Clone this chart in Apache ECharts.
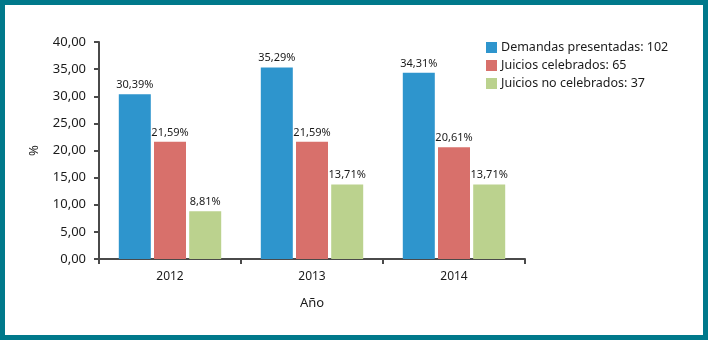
<!DOCTYPE html>
<html>
<head>
<meta charset="utf-8">
<script src="https://cdn.jsdelivr.net/npm/echarts@6/dist/echarts.min.js"></script>
<style>
html,body{margin:0;padding:0;background:#fff;}
#c{width:708px;height:340px;}
</style>
</head>
<body>
<div id="c"></div>
<script>
var categories = ['2012', '2013', '2014'];
var seriesNames = ['Demandas presentadas: 102', 'Juicios celebrados: 65', 'Juicios no celebrados: 37'];
var demandas = [30.39, 35.29, 34.31];
var celebrados = [21.59, 21.59, 20.61];
var noCelebrados = [8.81, 13.71, 13.71];
var yTicks = [0, 5, 10, 15, 20, 25, 30, 35, 40];
var colors = ['#2E95CD', '#D8706B', '#BBD28E'];

var font = 'Noto Sans';
var textColor = '#1b1b1b';
function fmtComma(v, d) { return v.toFixed(d).replace('.', ','); }

var values = [demandas, celebrados, noCelebrados];
var chart = echarts.init(document.getElementById('c'), null, {renderer: 'canvas'});
chart.setOption({
  animation: false,
  backgroundColor: '#fff',
  textStyle: {fontFamily: font},
  grid: {left: 99, right: 183, top: 42, bottom: 81, containLabel: false},
  legend: {
    orient: 'vertical',
    left: 481, top: 36,
    itemWidth: 11, itemHeight: 11,
    itemGap: 5,
    icon: 'rect',
    textStyle: {fontFamily: font, fontSize: 12.5, color: textColor, padding: [0, 0, 0, -1]},
    data: seriesNames
  },
  xAxis: {
    type: 'category',
    data: categories,
    name: 'Año',
    nameLocation: 'middle',
    nameGap: 38,
    nameTextStyle: {fontFamily: font, fontSize: 13, color: textColor},
    axisLine: {lineStyle: {color: '#4a4a4a', width: 2}},
    axisTick: {show: true, length: 5, lineStyle: {color: '#4a4a4a', width: 2}, alignWithLabel: false},
    axisLabel: {fontFamily: font, fontSize: 12, color: textColor, margin: 12}
  },
  yAxis: {
    type: 'value',
    min: yTicks[0], max: yTicks[yTicks.length - 1], interval: yTicks[1] - yTicks[0],
    name: '%',
    nameLocation: 'middle',
    nameRotate: 90,
    nameGap: 58,
    nameTextStyle: {fontFamily: font, fontSize: 13, color: textColor},
    axisLine: {show: true, lineStyle: {color: '#4a4a4a', width: 2}},
    axisTick: {show: true, length: 5, lineStyle: {color: '#4a4a4a', width: 2}},
    splitLine: {show: false},
    axisLabel: {fontFamily: font, fontSize: 13, color: textColor, margin: 13,
      formatter: function (v) { return fmtComma(v, 2); }}
  },
  series: seriesNames.map(function (n, i) {
    return {
      name: n,
      type: 'bar',
      data: values[i],
      barWidth: 32,
      barGap: '10%',
      itemStyle: {color: colors[i]},
      label: {
        show: true, position: 'top', distance: 4,
        fontFamily: font, fontSize: 11, color: textColor,
        formatter: function (p) { return fmtComma(p.value, 2) + '%'; }
      }
    };
  }),
  graphic: [{
    type: 'rect', silent: true, z: 100,
    shape: {x: 2.5, y: 2.5, width: 703, height: 335},
    style: {fill: 'none', stroke: '#00798B', lineWidth: 5}
  }]
});
</script>
</body>
</html>
